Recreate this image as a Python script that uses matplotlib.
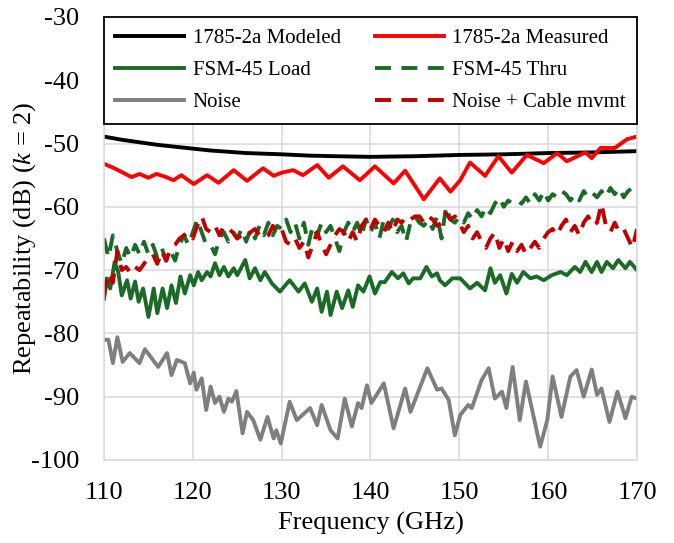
import matplotlib
matplotlib.use("Agg")
import matplotlib.pyplot as plt

plt.rcParams['font.family'] = ['Liberation Serif', 'DejaVu Serif']
plt.rcParams['axes.unicode_minus'] = False
plt.rcParams['mathtext.fontset'] = 'custom'
plt.rcParams['mathtext.rm'] = 'Liberation Serif'
plt.rcParams['mathtext.it'] = 'Liberation Serif:italic'

# 1785-2a Modeled
model_f = [110, 112, 114, 116, 118, 120, 122, 124, 126, 128, 130, 133, 136, 140,
           145, 150, 155, 160, 165, 170]
model_db = [-48.9, -49.4, -49.8, -50.2, -50.5, -50.8, -51.1, -51.3, -51.5, -51.6,
            -51.7, -51.9, -52.0, -52.1, -52.0, -51.8, -51.7, -51.5, -51.4, -51.2]

# 1785-2a Measured
meas_f = [110.0, 111.0, 112.0, 113.1, 114.0, 115.0, 115.9, 117.0, 117.8, 118.7, 120.1,
          121.6, 122.9, 124.6, 126.1, 127.9, 129.1, 130.0, 131.3, 132.4, 134.0, 135.3,
          136.9, 138.8, 140.5, 142.6, 143.9, 146.0, 147.8, 149.0, 150.1, 151.2, 152.9,
          154.4, 155.9, 157.6, 159.5, 161.0, 162.1, 164.2, 164.9, 165.9, 167.5, 168.9,
          170.0]
meas_db = [-53.2, -53.8, -54.5, -55.3, -54.8, -55.4, -54.8, -55.3, -55.8, -55.0, -56.4,
           -55.0, -56.2, -54.2, -55.9, -53.9, -55.1, -54.6, -54.2, -55.0, -53.4, -55.4,
           -53.6, -55.8, -53.6, -56.3, -54.3, -58.8, -55.5, -57.6, -55.8, -53.0, -55.1,
           -52.0, -54.6, -51.8, -53.1, -51.5, -52.8, -51.4, -52.3, -50.7, -50.7, -49.3,
           -48.9]

# FSM-45 Load
load_f = [110.0, 110.3, 110.7, 111.2, 111.6, 112.0, 112.6, 113.0, 113.5, 113.9, 114.4,
          115.0, 115.6, 116.0, 116.6, 117.1, 117.6, 118.1, 118.6, 119.1, 119.7, 120.1,
          120.6, 121.0, 121.6, 122.0, 122.5, 123.0, 123.5, 124.0, 124.6, 125.0, 125.9,
          126.4, 127.0, 127.6, 128.1, 128.9, 129.8, 130.9, 131.9, 132.6, 133.4, 134.0,
          134.5, 135.1, 135.5, 136.2, 136.8, 137.5, 138.0, 138.6, 139.2, 139.9, 140.5,
          141.1, 141.6, 142.4, 143.1, 143.7, 144.3, 144.8, 145.6, 146.3, 146.9, 147.5,
          147.8, 148.4, 149.2, 150.1, 151.2, 152.0, 152.9, 153.5, 154.0, 154.6, 155.3,
          155.9, 156.5, 157.2, 158.0, 158.7, 159.5, 160.4, 161.4, 162.1, 163.0, 163.6,
          164.2, 164.9, 165.5, 166.0, 166.6, 167.3, 167.9, 168.7, 169.2, 170.0]
load_db = [-74.5, -71.3, -72.9, -68.7, -70.3, -74.0, -71.6, -74.5, -71.8, -75.0, -72.9,
           -77.4, -72.9, -76.8, -72.9, -76.0, -72.4, -75.2, -71.0, -73.7, -70.8, -72.4,
           -70.3, -71.6, -70.3, -71.0, -68.9, -70.8, -69.5, -71.0, -69.7, -70.8, -68.4,
           -71.3, -69.7, -71.6, -70.3, -72.1, -73.4, -71.6, -73.4, -72.1, -75.0, -72.9,
           -76.6, -73.4, -77.1, -73.4, -76.0, -73.2, -75.8, -72.4, -73.4, -71.0, -73.7,
           -71.9, -71.9, -70.3, -71.3, -70.5, -72.1, -71.3, -71.3, -69.5, -71.0, -70.5,
           -71.6, -72.4, -71.3, -71.3, -72.9, -72.0, -73.2, -69.7, -72.0, -70.8, -73.7,
           -70.6, -72.0, -70.3, -71.3, -71.0, -71.6, -70.8, -70.3, -70.8, -69.5, -70.3,
           -68.7, -70.3, -68.7, -70.3, -68.7, -69.7, -68.4, -69.7, -68.7, -70.0]

# FSM-45 Thru (every 0.5 GHz from 110 to 170)
thru_f = [110 + 0.5 * i for i in range(121)]
thru_db = [-65.0, -68.0, -64.5, -67.0, -69.0, -66.5, -68.0, -66.0, -67.5, -65.5,
           -67.5, -66.0, -68.0, -66.5, -68.5, -67.0, -68.5, -66.0, -64.5, -66.0,
           -64.0, -62.0, -64.0, -66.0, -66.0, -67.5, -65.0, -64.0, -65.5, -64.0,
           -65.0, -63.5, -65.5, -63.5, -65.0, -63.0, -64.5, -62.5, -64.5, -63.0,
           -63.5, -62.0, -64.0, -62.5, -65.0, -62.5, -66.0, -63.0, -64.5, -62.5,
           -64.0, -63.0, -65.0, -67.0, -64.0, -62.5, -64.0, -62.5, -64.5, -62.0,
           -64.0, -62.5, -65.0, -62.0, -63.5, -62.0, -64.0, -63.0, -65.5, -62.5,
           -61.5, -62.5, -63.0, -62.0, -63.5, -61.5, -65.0, -60.0, -62.0, -62.5,
           -61.5, -62.5, -61.0, -62.0, -60.5, -61.5, -60.0, -61.0, -59.5, -58.5,
           -60.0, -59.0, -59.5, -59.0, -59.5, -58.5, -59.5, -58.0, -59.0, -57.5,
           -59.0, -58.0, -58.5, -57.5, -58.0, -59.0, -58.0, -59.0, -57.5, -58.5,
           -57.8, -58.5, -57.5, -58.5, -57.0, -58.0, -57.0, -58.5, -57.5, -57.0,
           -58.0]

# Noise
noise_f = [110.1, 110.5, 111.0, 111.5, 112.1, 112.9, 114.0, 114.6, 115.2, 116.1, 117.1,
           117.6, 118.2, 119.1, 119.7, 120.1, 120.4, 121.0, 121.5, 122.0, 122.5, 123.0,
           123.5, 124.0, 124.4, 124.9, 125.6, 126.1, 126.8, 127.6, 128.4, 129.1, 129.4,
           129.9, 130.9, 131.7, 133.2, 134.0, 134.5, 135.5, 136.3, 137.1, 137.9, 138.6,
           139.0, 139.6, 140.1, 141.5, 142.6, 143.9, 144.5, 146.4, 147.5, 148.0, 148.8,
           149.5, 150.1, 151.0, 151.4, 152.5, 153.3, 154.0, 154.8, 155.3, 156.0, 156.8,
           157.5, 159.1, 159.9, 160.5, 161.5, 162.5, 163.2, 164.0, 164.9, 165.5, 166.0,
           166.9, 167.8, 168.7, 169.4, 170.0]
noise_db = [-81.0, -81.0, -84.7, -80.6, -84.5, -83.1, -84.7, -82.5, -83.6, -85.3, -83.1,
            -86.6, -84.2, -84.7, -87.9, -86.2, -88.9, -87.1, -92.1, -88.4, -91.0, -90.0,
            -92.4, -90.3, -90.8, -89.1, -95.8, -92.4, -93.7, -96.8, -93.2, -96.6, -95.3,
            -97.4, -90.8, -93.7, -91.8, -94.5, -91.3, -95.3, -96.6, -90.3, -94.7, -91.0,
            -91.8, -88.2, -91.0, -87.9, -95.0, -88.7, -92.4, -85.5, -88.9, -88.7, -90.5,
            -96.1, -92.9, -91.3, -91.8, -87.4, -85.5, -90.3, -89.2, -91.8, -85.3, -93.7,
            -87.6, -97.9, -93.7, -86.8, -93.2, -86.8, -85.8, -90.0, -85.7, -89.7, -88.7,
            -94.0, -89.2, -93.4, -90.0, -90.3]

# Noise + Cable mvmt (every 0.5 GHz from 110 to 170)
cable_f = [110 + 0.5 * i for i in range(121)]
cable_db = [-74.0, -70.5, -72.0, -67.0, -70.0, -69.5, -70.5, -69.5, -70.0, -69.0,
            -68.0, -67.5, -69.0, -67.0, -68.5, -66.5, -66.0, -65.0, -64.5, -64.0,
            -65.0, -63.0, -61.5, -63.5, -64.0, -63.0, -64.5, -63.0, -63.5, -64.0,
            -65.0, -64.5, -65.0, -64.0, -63.5, -64.5, -65.0, -64.5, -63.0, -64.0,
            -63.5, -65.5, -66.0, -65.0, -66.5, -65.5, -68.0, -66.0, -64.0, -66.0,
            -67.5, -66.0, -64.5, -63.5, -64.0, -65.5, -64.0, -65.5, -63.0, -62.0,
            -63.5, -62.0, -63.0, -64.0, -62.5, -64.0, -62.0, -62.5, -61.5, -62.0,
            -61.5, -61.5, -62.5, -61.5, -62.0, -63.0, -62.5, -61.0, -62.0, -61.5,
            -62.5, -64.0, -63.0, -65.0, -64.0, -65.5, -66.5, -65.0, -64.0, -66.5,
            -65.0, -67.0, -65.5, -67.0, -66.0, -67.5, -66.5, -65.5, -66.5, -65.0,
            -64.0, -63.5, -64.5, -63.0, -62.0, -64.0, -63.0, -64.5, -62.5, -61.5,
            -63.0, -62.5, -59.5, -63.0, -64.0, -62.5, -64.0, -63.5, -65.0, -66.5,
            -63.5]

green = '#1b6b27'
lw = 2.8
dash = (11.5 / lw, 7.5 / lw)
style = dict(lw=lw, solid_joinstyle='round', dash_joinstyle='round')

fig = plt.figure(figsize=(6.74, 5.43), dpi=100)
ax = fig.add_axes([0.1543, 0.1529, 0.7908, 0.8158])

h1, = ax.plot(model_f, model_db, color='black', label='1785-2a Modeled', **style)
h2, = ax.plot(meas_f, meas_db, color='#ff0000', label='1785-2a Measured', **style)
h3, = ax.plot(load_f, load_db, color=green, label='FSM-45 Load', **style)
h4, = ax.plot(thru_f, thru_db, color=green, dashes=dash, label='FSM-45 Thru', **style)
h5, = ax.plot(noise_f, noise_db, color='#7f7f7f', label='Noise', **style)
h6, = ax.plot(cable_f, cable_db, color='#c00000', dashes=dash,
              label='Noise + Cable mvmt', **style)

ax.set_xlim(110, 170)
ax.set_ylim(-100, -30)
ax.set_xticks(range(110, 171, 10))
ax.set_yticks(range(-100, -29, 10))
ax.grid(True, color='#d9d9d9', lw=1.1)
ax.set_axisbelow(True)
for s in ax.spines.values():
    s.set_color('#d9d9d9')
    s.set_linewidth(1.1)
ax.tick_params(length=0, labelsize=19)
ax.tick_params(axis='x', pad=16)
ax.tick_params(axis='y', pad=18)

ax.set_xlabel('Frequency (GHz)', fontsize=19)
ax.xaxis.set_label_coords(0.5, -0.117)
ax.set_ylabel('Repeatability (dB) ($k$ = 2)', fontsize=19)
ax.yaxis.set_label_coords(-0.124, 0.5)

# Excel fills the legend row by row, matplotlib column by column
handles = [h1, h3, h5, h2, h4, h6]
leg = ax.legend(handles=handles, loc='upper left', bbox_to_anchor=(0, 1, 1, 0),
                mode='expand', ncol=2, borderaxespad=0, fontsize=15,
                handlelength=3.3, handletextpad=0.4, labelspacing=0.6,
                borderpad=0.55, fancybox=False, framealpha=1)
leg.get_frame().set_edgecolor('black')
leg.get_frame().set_linewidth(1.3)

fig.savefig('out.png', dpi=100)
